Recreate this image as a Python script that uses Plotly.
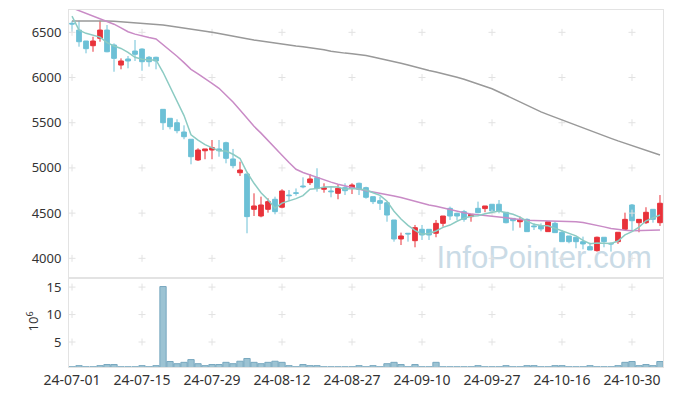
import plotly.graph_objects as go
from plotly.subplots import make_subplots

dates = [
    "24-07-01","24-07-02","24-07-03","24-07-04","24-07-05","24-07-08","24-07-09","24-07-10","24-07-11","24-07-12",
    "24-07-15","24-07-16","24-07-17","24-07-18","24-07-19","24-07-22","24-07-23","24-07-24","24-07-25","24-07-26",
    "24-07-29","24-07-30","24-07-31","24-08-01","24-08-02","24-08-05","24-08-06","24-08-07","24-08-08","24-08-09",
    "24-08-12","24-08-13","24-08-14","24-08-16","24-08-19","24-08-20","24-08-21","24-08-22","24-08-23","24-08-26",
    "24-08-27","24-08-28","24-08-29","24-08-30","24-09-02","24-09-03","24-09-04","24-09-05","24-09-06","24-09-09",
    "24-09-10","24-09-11","24-09-12","24-09-13","24-09-19","24-09-20","24-09-23","24-09-24","24-09-25","24-09-26",
    "24-09-27","24-09-30","24-10-02","24-10-04","24-10-07","24-10-08","24-10-10","24-10-11","24-10-14","24-10-15",
    "24-10-16","24-10-17","24-10-18","24-10-21","24-10-22","24-10-23","24-10-24","24-10-25","24-10-28","24-10-29",
    "24-10-30","24-10-31","24-11-01","24-11-04","24-11-05",
]

open_ = [6600,6525,6404,6352,6434,6525,6360,6138,6205,6293,
         6315,6224,6224,5648,5549,5500,5397,5317,5088,5190,
         5198,5210,5279,5099,4947,4933,4542,4468,4542,4653,
         4565,4700,4725,4800,4837,4892,4764,4745,4719,4782,
         4775,4830,4782,4682,4638,4615,4424,4214,4277,4195,
         4321,4321,4277,4387,4553,4498,4516,4461,4553,4550,
         4598,4598,4509,4442,4405,4431,4358,4361,4295,4387,
         4288,4247,4233,4184,4129,4085,4233,4166,4184,4321,
         4590,4394,4394,4542,4394]
high = [6628,6628,6404,6451,6628,6581,6378,6212,6238,6415,
        6323,6238,6230,5648,5549,5538,5471,5317,5217,5210,
        5309,5309,5290,5210,5069,4933,4719,4682,4664,4682,
        4764,4756,4773,4896,4933,4996,4830,4792,4811,4830,
        4830,4837,4792,4682,4682,4627,4424,4284,4277,4369,
        4369,4321,4424,4468,4572,4505,4535,4487,4627,4579,
        4600,4645,4509,4442,4461,4442,4387,4387,4405,4405,
        4314,4247,4233,4240,4173,4240,4233,4177,4288,4505,
        4601,4431,4565,4542,4700]
low = [6507,6341,6268,6285,6396,6280,6064,6091,6102,6183,
       6075,6120,6091,5420,5427,5383,5317,5040,5077,5096,
       5096,5124,5051,4996,4911,4277,4468,4454,4505,4487,
       4553,4637,4693,4775,4811,4737,4726,4675,4653,4700,
       4711,4700,4660,4600,4535,4405,4184,4147,4184,4122,
       4203,4203,4233,4350,4424,4424,4405,4405,4498,4510,
       4498,4498,4387,4306,4339,4295,4313,4299,4295,4284,
       4184,4166,4111,4100,4092,4074,4122,4074,4159,4313,
       4313,4288,4380,4394,4358]
close = [6592,6396,6319,6404,6525,6285,6212,6183,6183,6257,
         6175,6175,6183,5500,5456,5412,5345,5124,5198,5210,
         5224,5190,5106,5025,4977,4461,4579,4590,4627,4516,
         4745,4693,4719,4792,4878,4775,4782,4737,4775,4748,
         4811,4764,4675,4627,4609,4479,4214,4247,4270,4339,
         4258,4258,4387,4468,4468,4468,4432,4487,4505,4579,
         4524,4524,4394,4416,4424,4295,4350,4325,4405,4284,
         4184,4184,4184,4159,4092,4233,4184,4159,4288,4431,
         4416,4431,4509,4431,4609]

ma5 = [6680,6525,6489,6470,6447,6386,6349,6322,6278,6224,
       6202,6195,6195,6058,5898,5745,5579,5367,5307,5258,
       5220,5189,5186,5151,5104,4952,4830,4726,4647,4555,
       4611,4634,4660,4693,4765,4771,4789,4793,4789,4763,
       4771,4767,4755,4725,4697,4631,4521,4435,4364,4310,
       4266,4274,4302,4342,4368,4410,4445,4465,4472,4494,
       4505,4524,4505,4487,4456,4411,4376,4362,4360,4332,
       4310,4276,4248,4199,4161,4170,4170,4165,4191,4259,
       4296,4345,4415,4444,4479]
ma20 = [6770,6740,6715,6685,6655,6625,6590,6550,6507,6480,
        6459,6442,6426,6365,6300,6235,6165,6091,6040,5991,
        5935,5881,5810,5730,5641,5545,5460,5385,5300,5217,
        5140,5060,4985,4950,4922,4895,4867,4843,4819,4800,
        4782,4762,4748,4733,4720,4708,4690,4672,4650,4630,
        4610,4590,4575,4555,4538,4520,4503,4490,4480,4470,
        4463,4458,4448,4438,4426,4420,4417,4416,4415,4414,
        4414,4413,4405,4395,4382,4365,4348,4330,4318,4310,
        4306,4306,4308,4310,4313]
ma120 = [6625,6626,6627,6628,6628,6626,6622,6617,6612,6607,
         6602,6597,6592,6582,6570,6557,6545,6534,6523,6511,
         6500,6488,6475,6462,6446,6430,6414,6402,6390,6378,
         6367,6358,6349,6340,6331,6320,6306,6291,6277,6270,
         6263,6257,6243,6228,6212,6194,6176,6158,6139,6116,
         6095,6078,6061,6044,6028,6004,5980,5956,5931,5906,
         5876,5840,5803,5766,5728,5690,5658,5620,5590,5560,
         5530,5500,5470,5440,5410,5383,5355,5327,5299,5272,
         5245,5219,5194,5168,5143]

volume = [0.5,0.7,0.5,0.5,0.7,0.9,0.9,0.5,0.5,0.5,
          0.7,0.5,0.7,15.1,1.45,1.05,1.3,1.8,1.05,0.7,
          0.9,0.9,1.3,1.05,1.5,2.0,1.3,1.05,1.3,1.5,
          1.3,0.7,0.5,0.9,0.7,0.7,0.5,0.5,0.5,0.5,
          0.5,0.7,0.5,0.7,0.5,1.05,1.3,0.9,0.5,0.9,
          0.5,0.5,1.3,0.5,0.5,0.5,0.5,0.5,0.7,0.5,
          0.5,0.5,0.7,0.5,0.5,0.7,0.7,0.5,0.5,0.7,
          0.7,0.5,0.5,0.5,0.7,0.5,0.5,0.5,0.7,1.3,
          1.45,0.7,0.9,0.7,1.45]

x_tick_labels = ["24-07-01","24-07-15","24-07-29","24-08-12","24-08-27",
                 "24-09-10","24-09-27","24-10-16","24-10-30"]
price_ticks = [4000, 4500, 5000, 5500, 6000, 6500]
volume_ticks = [5, 10, 15]

RED = "#e8323a"
BLUE = "#6cc0d6"
GRID = "#e2e2e2"
FONT = "Noto Sans"

fig = make_subplots(rows=2, cols=1, shared_xaxes=True, row_heights=[0.75, 0.25],
                    vertical_spacing=0)

# grid crosses at tick intersections
gx = [d for d in x_tick_labels for _ in price_ticks]
gy = [v for _ in x_tick_labels for v in price_ticks]
fig.add_trace(go.Scatter(x=gx, y=gy, mode="markers", hoverinfo="skip", showlegend=False,
                         marker=dict(symbol="cross-thin", size=5, line=dict(color=GRID, width=1))),
              row=1, col=1)
gx2 = [d for d in x_tick_labels for _ in volume_ticks]
gy2 = [v for _ in x_tick_labels for v in volume_ticks]
fig.add_trace(go.Scatter(x=gx2, y=gy2, mode="markers", hoverinfo="skip", showlegend=False,
                         marker=dict(symbol="cross-thin", size=5, line=dict(color=GRID, width=1))),
              row=2, col=1)

fig.add_trace(go.Scatter(x=dates, y=ma120, mode="lines", showlegend=False,
                         line=dict(color="#999999", width=1.5)), row=1, col=1)
fig.add_trace(go.Scatter(x=dates, y=ma20, mode="lines", showlegend=False,
                         line=dict(color="#c98bc6", width=1.5)), row=1, col=1)
fig.add_trace(go.Candlestick(x=dates, open=open_, high=high, low=low, close=close,
                             showlegend=False, whiskerwidth=0,
                             increasing=dict(line=dict(color=RED, width=1), fillcolor=RED),
                             decreasing=dict(line=dict(color=BLUE, width=1), fillcolor=BLUE)),
              row=1, col=1)
fig.add_trace(go.Scatter(x=dates, y=ma5, mode="lines", showlegend=False,
                         line=dict(color="#8ccbc3", width=1.5)), row=1, col=1)

fig.add_trace(go.Bar(x=dates, y=volume, showlegend=False,
                     marker=dict(color="#9cc3d3", line=dict(color="#78a8bf", width=1))),
              row=2, col=1)

axis_common = dict(showline=True, mirror=True, linecolor="#e3e3e3", linewidth=1,
                   showgrid=False, zeroline=False, ticks="", automargin=False)

fig.update_xaxes(type="category", categoryorder="array", categoryarray=dates,
                 range=[-0.43, 84.43], tickmode="array", tickvals=x_tick_labels,
                 ticktext=x_tick_labels, rangeslider_visible=False,
                 tickfont=dict(family=FONT, size=14, color="#333333"), **axis_common)
fig.update_xaxes(showticklabels=False, row=1, col=1)
fig.update_yaxes(range=[3785, 6747], tickmode="array", tickvals=price_ticks,
                 ticklabelstandoff=4, tickfont=dict(family=FONT, size=13, color="#333333"),
                 **axis_common, row=1, col=1)
fig.update_yaxes(range=[0.45, 16.7], tickmode="array", tickvals=volume_ticks,
                 ticklabelstandoff=4, tickfont=dict(family=FONT, size=13, color="#333333"),
                 **axis_common, row=2, col=1)

fig.add_annotation(text="10<sup>6</sup>", xref="paper", yref="paper", x=-0.062, y=0.128,
                   xanchor="center", yanchor="middle",
                   showarrow=False, textangle=-90, font=dict(family=FONT, size=13, color="#333333"))

# watermark drawn beneath the traces
fig.add_shape(type="rect", xref="paper", yref="paper", x0=0.6, x1=1.0, y0=0.26, y1=0.37,
              line=dict(width=0), fillcolor="rgba(0,0,0,0)", layer="below",
              label=dict(text="InfoPointer.com", textposition="middle center",
                         font=dict(family="Liberation Sans", size=31, color="#cadbe6")))

fig.update_layout(width=673, height=396, margin=dict(l=69, r=10, t=10, b=29),
                  plot_bgcolor="white", paper_bgcolor="white", bargap=0.1,
                  boxgap=0.04, boxgroupgap=0.3, hovermode=False)

fig.write_html("out.html", config={"displayModeBar": False},
               post_script="document.body.style.margin='0';")
